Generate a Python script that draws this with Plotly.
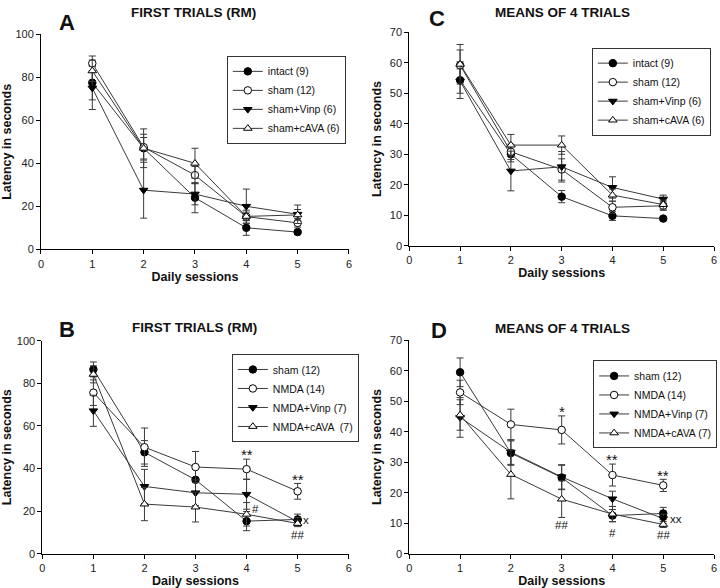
import plotly.graph_objects as go

sessions = [1, 2, 3, 4, 5]

# Panel A: FIRST TRIALS (RM)
a_names = ["intact (9)", "sham (12)", "sham+Vinp (6)", "sham+cAVA (6)"]
a_vals = [
    [77.5, 47, 24, 10, 8],
    [86.5, 47.5, 34.5, 15.2, 12.3],
    [75, 27.5, 25.7, 20, 16.3],
    [83, 47, 40, 15.3, 16],
]
a_errs = [
    [8, 5, 7, 3.5, 1],
    [3.4, 6, 4, 3, 2],
    [10, 13, 5, 8, 4.3],
    [5, 9, 7, 2, 2.5],
]

# Panel C: MEANS OF 4 TRIALS
c_names = ["intact (9)", "sham (12)", "sham+Vinp (6)", "sham+cAVA (6)"]
c_vals = [
    [54.3, 30, 16.1, 9.8, 8.9],
    [59.2, 30.8, 25, 12.6, 13.1],
    [54, 24.5, 25.9, 19.1, 15.3],
    [59.5, 33, 33, 16.6, 13.5],
]
c_errs = [
    [6, 2.5, 2, 1.5, 0.5],
    [5, 2.5, 3.5, 2, 1.5],
    [4, 6.5, 5, 3.5, 1.3],
    [6.5, 3.5, 3, 2, 1.5],
]

# Panel B: FIRST TRIALS (RM)
b_names = ["sham (12)", "NMDA (14)", "NMDA+Vinp (7)", "NMDA+cAVA  (7)"]
b_vals = [
    [86.5, 47.6, 34.7, 15.3, 16.1],
    [75.6, 50, 40.7, 39.7, 29.3],
    [67.1, 31.6, 28.6, 27.9, 15],
    [84.2, 23.3, 21.9, 18.5, 14.2],
]
b_errs = [
    [3.5, 5.5, 6, 4.5, 2.5],
    [6, 9, 7.3, 4.7, 3.7],
    [7.3, 8, 6, 7, 2],
    [4, 7.8, 7, 5.5, 1.5],
]

# Panel D: MEANS OF 4 TRIALS
d_names = ["sham (12)", "NMDA (14)", "NMDA+Vinp (7)", "NMDA+cAVA (7)"]
d_vals = [
    [59.5, 33, 25, 12.5, 13.2],
    [52.9, 42.4, 40.6, 25.8, 22.4],
    [44.7, 33.3, 25.2, 18, 11.5],
    [45.5, 26, 17.9, 13, 9.6],
]
d_errs = [
    [4.7, 4, 4, 2, 2],
    [4, 5, 4.6, 3.6, 2],
    [6.5, 4, 4, 2.5, 1.5],
    [5, 8, 6, 2.5, 1],
]

# significance marks: (text, x, y)
b_marks = [("**", 4, 46.5), ("**", 5, 35), ("#", 4.17, 21), ("x", 5.17, 15.8), ("##", 5, 9)]
d_marks = [("*", 3, 46.5), ("**", 4, 30.8), ("**", 5, 25.7), ("##", 3, 9.5),
           ("#", 4, 6.7), ("##", 5, 6.2), ("xx", 5.25, 11.4)]

FONT = "Liberation Sans, Arial, sans-serif"
symbols = ["circle", "circle", "triangle-down", "triangle-up"]
fills = ["black", "white", "black", "white"]

fig = go.Figure()

panels = [
    ("x", "y", a_names, a_vals, a_errs, "legend"),
    ("x2", "y2", c_names, c_vals, c_errs, "legend2"),
    ("x3", "y3", b_names, b_vals, b_errs, "legend3"),
    ("x4", "y4", d_names, d_vals, d_errs, "legend4"),
]

for xa, ya, names, vals, errs, leg in panels:
    for i, (nm, v, e) in enumerate(zip(names, vals, errs)):
        fig.add_trace(go.Scatter(
            x=sessions, y=v, name=nm, xaxis=xa, yaxis=ya, legend=leg,
            mode="lines+markers",
            line=dict(color="#3a3a3a", width=1),
            marker=dict(symbol=symbols[i], size=7.5,
                        color=fills[i],
                        line=dict(color="black", width=1)),
            error_y=dict(type="data", array=e, visible=True, color="#3a3a3a",
                         thickness=1, width=3.5),
        ))

axis_common = dict(showline=True, linecolor="black", linewidth=1, ticks="outside",
                   ticklen=4, tickcolor="black", showgrid=False, zeroline=False,
                   automargin=False,
                   tickfont=dict(family=FONT, size=11, color="#222"))

title_font = dict(family=FONT, size=12.5, color="#111", weight="bold")
xt = dict(text="Daily sessions", font=title_font, standoff=2)
yt_wide = dict(text="Latency in seconds", font=title_font, standoff=8)
yt_narrow = dict(text="Latency in seconds", font=title_font, standoff=5)

fig.update_layout(
    width=720, height=588,
    margin=dict(l=0, r=0, t=0, b=0),
    paper_bgcolor="white", plot_bgcolor="white",
    font=dict(family=FONT, color="#111"),
    xaxis=dict(domain=[0.0569, 0.4847], range=[0, 6], dtick=1, anchor="y", title=xt, **axis_common),
    yaxis=dict(domain=[0.576, 0.9417], range=[0, 100], dtick=20, anchor="x", title=yt_wide, **axis_common),
    xaxis2=dict(domain=[0.5685, 0.9917], range=[0, 6], dtick=1, anchor="y2", title=xt, **axis_common),
    yaxis2=dict(domain=[0.5821, 0.9451], range=[0, 70], dtick=10, anchor="x2", title=yt_narrow, **axis_common),
    xaxis3=dict(domain=[0.0588, 0.4843], range=[0, 6], dtick=1, anchor="y3", title=xt, **axis_common),
    yaxis3=dict(domain=[0.0583, 0.4206], range=[0, 100], dtick=20, anchor="x3", title=yt_wide, **axis_common),
    xaxis4=dict(domain=[0.5685, 0.9917], range=[0, 6], dtick=1, anchor="y4", title=xt, **axis_common),
    yaxis4=dict(domain=[0.0583, 0.4213], range=[0, 70], dtick=10, anchor="x4", title=yt_narrow, **axis_common),
)

leg_common = dict(bgcolor="white", bordercolor="#333", borderwidth=1,
                  font=dict(family=FONT, size=10.5, color="#111"),
                  yanchor="top", tracegroupgap=0, itemwidth=30)
fig.update_layout(
    legend=dict(x=0.315, y=0.905, xanchor="left", **leg_common),
    legend2=dict(x=0.822, y=0.919, xanchor="left", **leg_common),
    legend3=dict(x=0.322, y=0.398, xanchor="left", **leg_common),
    legend4=dict(x=0.996, y=0.387, xanchor="right", **leg_common),
)

# panel titles and letters
titles = [
    ("A", 67, 22, "FIRST TRIALS (RM)", 193, 13),
    ("C", 437, 18, "MEANS OF 4 TRIALS", 562, 13),
    ("B", 67, 329, "FIRST TRIALS (RM)", 194, 327),
    ("D", 439, 330, "MEANS OF 4 TRIALS", 562, 328),
]
for letter, lx, ly, title, tx, ty in titles:
    fig.add_annotation(text=letter, x=lx / 720, y=1 - ly / 588, xref="paper", yref="paper",
                       showarrow=False, xanchor="center", yanchor="middle",
                       font=dict(family=FONT, size=22, color="#111", weight="bold"))
    fig.add_annotation(text=title, x=tx / 720, y=1 - ty / 588, xref="paper", yref="paper",
                       showarrow=False, xanchor="center", yanchor="middle",
                       font=dict(family=FONT, size=13.5, color="#111", weight="bold"))

for xa, ya, marks in [("x3", "y3", b_marks), ("x4", "y4", d_marks)]:
    for txt, mx, my in marks:
        fig.add_annotation(text=txt, x=mx, y=my, xref=xa, yref=ya, showarrow=False,
                           xanchor="center", yanchor="middle",
                           font=dict(family=FONT, size=15 if "*" in txt else 11.5, color="#111"))

fig.write_html("out.html", config={"displayModeBar": False},
               post_script="document.body.style.margin='0px';document.body.style.overflow='hidden';")
